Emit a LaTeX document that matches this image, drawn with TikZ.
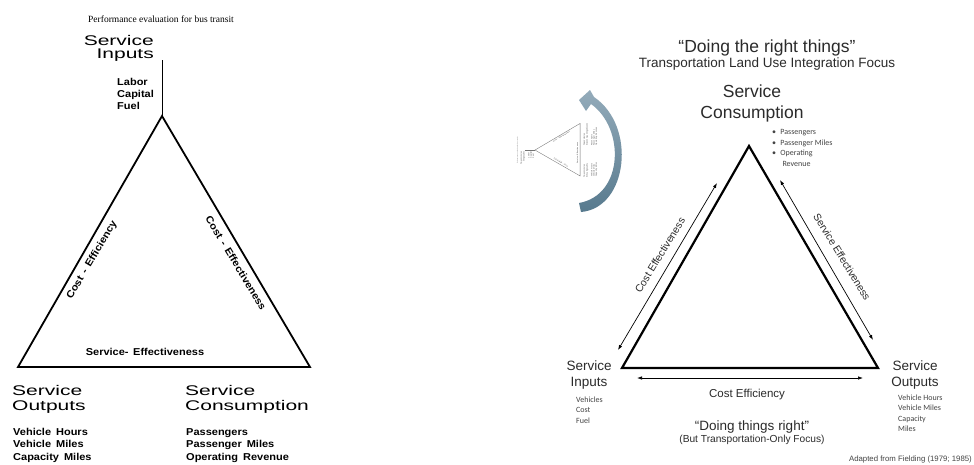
\documentclass[tikz,border=0pt]{standalone}
\usepackage{fontspec}
\setmainfont{Liberation Sans}
\newfontfamily\serifft{Liberation Serif}
\newfontfamily\widefont{Liberation Sans}[FakeStretch=1.5]
\newfontfamily\boldwide{Liberation Sans}[FakeStretch=1.1,WordSpace=1.5,UprightFont=* Bold]
\newfontfamily\calib{Carlito}
\usetikzlibrary{arrows.meta}
\definecolor{arcA}{HTML}{577A8E}
\definecolor{arcB}{HTML}{94ABBA}
\definecolor{txt}{HTML}{2B2B2B}
\definecolor{smalltxt}{HTML}{444444}

\tikzset{
  tri/.style={line width=1.8pt, line join=miter},
  stem/.style={line width=0.9pt},
  ttlfont/.style={font=\serifft\fontsize{9.5}{11}\selectfont, inner sep=0},
  lbig/.style={font=\widefont\fontsize{14}{14}\selectfont, inner sep=0},
  lbold/.style={font=\boldwide\fontsize{10}{12}\selectfont, inner sep=0},
  rtri/.style={line width=2.2pt, line join=miter, draw=black},
  dbl/.style={line width=0.7pt, {Latex[length=5pt,width=3.5pt]}-{Latex[length=5pt,width=3.5pt]}},
  rbig/.style={font=\fontsize{17.5}{20}\selectfont, text=txt, inner sep=0, anchor=base},
  rmid/.style={font=\fontsize{13.5}{15}\selectfont, text=txt, inner sep=0, anchor=base},
  rside/.style={font=\fontsize{10.4}{12}\selectfont, text=txt, inner sep=0},
  rsmall/.style={font=\calib\fontsize{8}{10}\selectfont, text=smalltxt, inner sep=0, anchor=base west},
}

\newcommand{\fieldingtri}[1]{%
  \coordinate (#1A) at (162,116);
  \coordinate (#1B) at (18,367);
  \coordinate (#1C) at (310,367);
  \coordinate (#1T) at (162,60);
  \draw[tri] (#1B) -- (#1A) -- (#1C) -- cycle;
  \draw[stem] (#1T) -- (#1A);
  \node[ttlfont, anchor=base] (#1ttl) at (161,22.5) {Performance evaluation for bus transit};
  \node[lbig, anchor=base east] (#1si1) at (154,45) {Service};
  \node[lbig, anchor=base east] (#1si2) at (154,58.5) {Inputs};
  \node[lbold, anchor=base west] (#1i1) at (117,85) {Labor};
  \node[lbold, anchor=base west] (#1i2) at (117,97) {Capital};
  \node[lbold, anchor=base west] (#1i3) at (117,109.5) {Fuel};
  \node[lbold, rotate=59.5] (#1ce) at (92,260) {Cost - Efficiency};
  \node[lbold, rotate=-59] (#1cf) at (236,263) {Cost - Effectiveness};
  \node[lbold] (#1se) at (145,352) {Service- Effectiveness};
  \node[lbig, anchor=base west] (#1so1) at (12,395) {Service};
  \node[lbig, anchor=base west] (#1so2) at (12,410) {Outputs};
  \node[lbig, anchor=base west] (#1sc1) at (185,395) {Service};
  \node[lbig, anchor=base west] (#1sc2) at (185,410) {Consumption};
  \node[lbold, anchor=base west] (#1o1) at (13,435) {Vehicle\hspace{5pt}Hours};
  \node[lbold, anchor=base west] (#1o2) at (13,447.5) {Vehicle\hspace{5pt}Miles};
  \node[lbold, anchor=base west] (#1o3) at (13,460) {Capacity\hspace{5pt}Miles};
  \node[lbold, anchor=base west] (#1c1) at (186,435) {Passengers};
  \node[lbold, anchor=base west] (#1c2) at (186,447.5) {Passenger\hspace{5pt}Miles};
  \node[lbold, anchor=base west] (#1c3) at (186,460) {Operating\hspace{5pt}Revenue};
}

\begin{document}
\begin{tikzpicture}[x=1pt, y=-1pt]
\useasboundingbox[fill=white] (0,0) rectangle (974,464);

% ---------- left: original diagram ----------
\fieldingtri{L}

% ---------- thumbnail of the original diagram ----------
\begin{scope}[shift={(514.1pt,-179.2pt)}, rotate=90, scale=0.18, transform shape,
  color=black!55, tri/.style={line width=0.35pt}, stem/.style={line width=0.25pt}]
  \fieldingtri{S}
\end{scope}

% ---------- curved arrow ----------
\shade[top color=arcB, bottom color=arcA]
  (581,212) .. controls (628,208) and (637,126) .. (594,97)
  -- (590,90) -- (579,100) -- (586,111) -- (591,104)
  .. controls (625,128) and (624,195) .. (579,203) -- cycle;

% ---------- right: adapted diagram ----------
\node[rbig] (rt1) at (767,52) {“Doing the right things”};
\node[font=\fontsize{13.5}{15}\selectfont, text=txt, inner sep=0, anchor=base] (rt2) at (767,67.5) {Transportation Land Use Integration Focus};

\node[rbig] (sc1) at (752,97) {Service};
\node[rbig] (sc2) at (752,118) {Consumption};

\node[rsmall] (b1) at (772,134.5) {•\hspace{4.2pt}Passengers};
\node[rsmall] (b2) at (772,145) {•\hspace{4.2pt}Passenger Miles};
\node[rsmall] (b3) at (772,155.5) {•\hspace{4.2pt}Operating};
\node[rsmall] (b4) at (782.3,166) {Revenue};

\coordinate (RA) at (749,146);
\coordinate (RB) at (622,368);
\coordinate (RC) at (878,368);
\draw[rtri] (RB) -- (RA) -- (RC) -- cycle;

\coordinate (L1) at (618,350);
\coordinate (L2) at (717,183);
\draw[dbl] (L1) -- (L2);
\coordinate (R1) at (780,180);
\coordinate (R2) at (873,340);
\draw[dbl] (R1) -- (R2);
\coordinate (B1) at (637,378);
\coordinate (B2) at (863,378);
\draw[dbl] (B1) -- (B2);

\node[rside, rotate=58.5] (cef) at (660,255) {Cost Effectiveness};
\node[rside, rotate=-58.5] (sef) at (842,257) {Service Effectiveness};

\node[rmid] (si1) at (589,370) {Service};
\node[rmid] (si2) at (589,386) {Inputs};
\node[rsmall] (v1) at (576,402) {Vehicles};
\node[rsmall] (v2) at (576,412.5) {Cost};
\node[rsmall] (v3) at (576,423) {Fuel};

\node[rmid] (so1) at (915,370) {Service};
\node[rmid] (so2) at (915,386) {Outputs};
\node[rsmall] (w1) at (898,400) {Vehicle Hours};
\node[rsmall] (w2) at (898,410.5) {Vehicle Miles};
\node[rsmall] (w3) at (898,421) {Capacity};
\node[rsmall] (w4) at (898,431.5) {Miles};

\node[font=\fontsize{11.5}{13}\selectfont, text=txt, inner sep=0, anchor=base] (cfe) at (747,397) {Cost Efficiency};
\node[rmid] (dr1) at (752,430) {“Doing things right”};
\node[font=\fontsize{10.2}{12}\selectfont, text=txt, inner sep=0, anchor=base] (dr2) at (752,442.5) {(But Transportation-Only Focus)};
\node[font=\fontsize{7.8}{9}\selectfont, text=smalltxt, inner sep=0, anchor=base east] (src) at (972,461) {Adapted from Fielding (1979; 1985)};
\end{tikzpicture}
\end{document}
